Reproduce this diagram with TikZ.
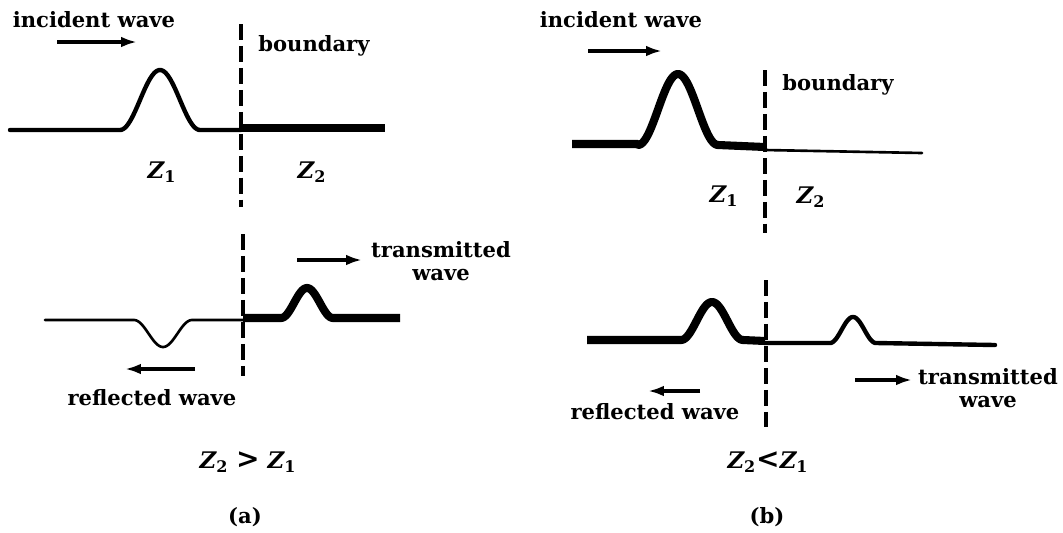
\documentclass[tikz,border=0pt]{standalone}
\usepackage{fontspec}
\setmainfont{DejaVu Serif}
\usepackage{tikz}
\usetikzlibrary{arrows.meta}

\begin{document}
\begin{tikzpicture}[
  x=0.02cm,
  y=-0.02cm,
  lbl/.style={
    inner sep=0pt,
    align=center,
    font=\fontsize{12}{13}\selectfont\bfseries
  },
  zlbl/.style={
    inner sep=0pt,
    font=\fontsize{13}{14}\selectfont\bfseries\itshape
  },
  arr/.style={-{Latex[length=9pt,width=6pt]}, line width=1.8pt},
  bnd/.style={line width=2pt, dash pattern=on 9pt off 3.5pt},
  thinw/.style={line width=1.5pt, line join=round, line cap=round},
  medw/.style={line width=2.5pt, line join=round, line cap=round},
  thickw/.style={line width=4.6pt, line join=round}
]
\useasboundingbox (0,0) rectangle (1063,532);

% ---------- (a) Z2 > Z1 ----------
\node[lbl] (incA) at (94,20) {incident wave};
\node[lbl] (bndA) at (314,46) {boundary};
\node[zlbl] (z1A) at (162,172) {Z\textsubscript{\upshape 1}};
\node[zlbl] (z2A) at (312,172) {Z\textsubscript{\upshape 2}};
\node[lbl] (trA) at (441,261) {transmitted\\wave};
\node[lbl] (refA) at (152,398) {reflected wave};
\node[zlbl] (relA) at (248,462) {Z\textsubscript{\upshape 2} {\upshape\fontsize{16}{16}\selectfont >} Z\textsubscript{\upshape 1}};
\node[lbl] (capA) at (245,517) {(a)};

\coordinate (incAs) at (57,42);
\coordinate (incAe) at (137,42);
\coordinate (refAs) at (195,369);
\coordinate (refAe) at (125,369);
\coordinate (trAs) at (297,260);
\coordinate (trAe) at (362,260);
\coordinate (bA1) at (241,24);
\coordinate (bA2) at (241,207);
\coordinate (bA3) at (243,234);
\coordinate (bA4) at (243,376);

\draw[arr] (incAs) -- (incAe);
\draw[arr] (refAs) -- (refAe);
\draw[arr] (trAs) -- (trAe);
\draw[bnd] (bA1) -- (bA2);
\draw[bnd] (bA3) -- (bA4);

% upper: pulse coming in
\draw[medw] (10,130) -- (120,130)
  -- plot[domain=120:200, samples=50] (\x,{130-60*(1+cos(180*(\x-160)/40))/2})
  -- (241,130);
\draw[thickw] (241,128) -- (385,128);

% lower: inverted reflection, transmitted pulse
\draw[thinw] (45,320) -- (134,320)
  -- plot[domain=134:192, samples=50] (\x,{320+27*(1+cos(180*(\x-163)/29))/2})
  -- (243,320);
\draw[thickw] (243,318) -- (281,318)
  -- plot[domain=281:333, samples=50] (\x,{318-30*(1+cos(180*(\x-307)/26))/2})
  -- (400,318);

% ---------- (b) Z2 < Z1 ----------
\node[lbl] (incB) at (621,20) {incident wave};
\node[lbl] (bndB) at (838,85) {boundary};
\node[zlbl] (z1B) at (724,196) {Z\textsubscript{\upshape 1}};
\node[zlbl] (z2B) at (811,197) {Z\textsubscript{\upshape 2}};
\node[lbl] (trB) at (988,388) {transmitted\\wave};
\node[lbl] (refB) at (655,412) {reflected wave};
\node[zlbl] (relB) at (768,462) {Z\textsubscript{\upshape 2}{\upshape\fontsize{16}{16}\selectfont <}Z\textsubscript{\upshape 1}};
\node[lbl] (capB) at (767,517) {(b)};

\coordinate (incBs) at (588,51);
\coordinate (incBe) at (662,51);
\coordinate (refBs) at (700,391);
\coordinate (refBe) at (648,391);
\coordinate (trBs) at (855,380);
\coordinate (trBe) at (912,380);
\coordinate (bB1) at (765,70);
\coordinate (bB2) at (765,233);
\coordinate (bB3) at (766,280);
\coordinate (bB4) at (766,427);

\draw[arr] (incBs) -- (incBe);
\draw[arr] (refBs) -- (refBe);
\draw[arr] (trBs) -- (trBe);
\draw[bnd] (bB1) -- (bB2);
\draw[bnd] (bB3) -- (bB4);

% upper: pulse coming in
\draw[thickw] (572,144) -- (638,144)
  -- plot[domain=638:718, samples=50] (\x,{145-71*(1+cos(180*(\x-678)/40))/2})
  -- (765,147);
\draw[thinw] (765,150) -- (922,153);

% lower: reflection upright, transmitted pulse
\draw[thickw] (587,340) -- (681,340)
  -- plot[domain=681:743, samples=50] (\x,{340-38*(1+cos(180*(\x-712)/31))/2})
  -- (765,341);
\draw[medw] (765,343) -- (830,343)
  -- plot[domain=830:876, samples=50] (\x,{343-26*(1+cos(180*(\x-853)/23))/2})
  -- (995,345);
\end{tikzpicture}
\end{document}
